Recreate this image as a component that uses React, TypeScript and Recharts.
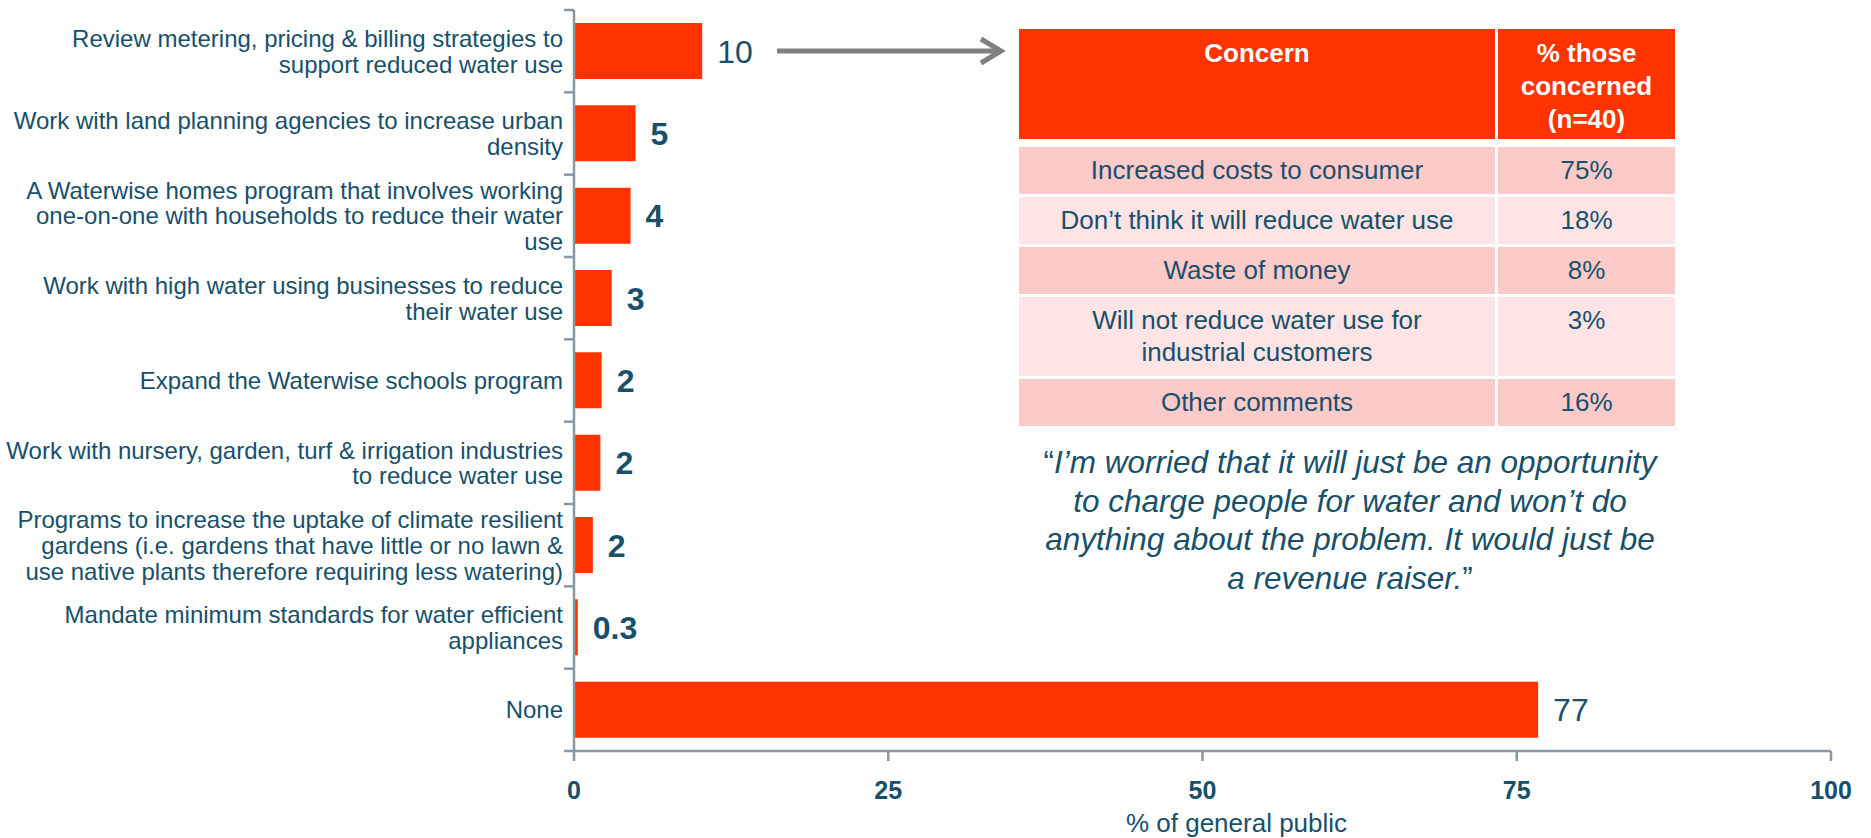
import React from "react";
import { BarChart, Bar, XAxis, YAxis, LabelList } from "recharts";

// ── data ─────────────────────────────────────────────────────────────────────

const categories = [
  "Review metering, pricing & billing strategies to\nsupport reduced water use",
  "Work with land planning agencies to increase urban\ndensity",
  "A Waterwise homes program that involves working\none-on-one with households to reduce their water\nuse",
  "Work with high water using businesses to reduce\ntheir water use",
  "Expand the Waterwise schools program",
  "Work with nursery, garden, turf & irrigation industries\nto reduce water use",
  "Programs to increase the uptake of climate resilient\ngardens (i.e. gardens that have little or no lawn &\nuse native plants therefore requiring less watering)",
  "Mandate minimum standards for water efficient\nappliances",
  "None",
];
const values = [10.2, 4.9, 4.5, 3.0, 2.2, 2.1, 1.5, 0.3, 76.7];
const valueLabels = ["10", "5", "4", "3", "2", "2", "2", "0.3", "77"];
const xTicks = [0, 25, 50, 75, 100];
const axisTitle = "% of general public";

const concernHeader = ["Concern", "% those\nconcerned\n(n=40)"];
const concerns = [
  "Increased costs to consumer",
  "Don\u2019t think it will reduce water use",
  "Waste of money",
  "Will not reduce water use for\nindustrial customers",
  "Other comments",
];
const concernShares = ["75%", "18%", "8%", "3%", "16%"];

const quoteLines = [
  "I\u2019m worried that it will just be an opportunity",
  "to charge people for water and won\u2019t do",
  "anything about the problem. It would just be",
  "a revenue raiser.",
];

// ── style ────────────────────────────────────────────────────────────────────

const FONT = "'Liberation Sans', Arial, Helvetica, sans-serif";
const RED = "#ff3300";
const TEXT = "#17506a";
const AXIS = "#8a96a0";
const ROW_A = "#fdcaca";
const ROW_B = "#fee4e4";

const W = 1871;
const H = 838;
const MARGIN = { top: 10, right: 40, bottom: 7, left: 0 };
const X_AXIS_H = 80;
const PLOT_H = H - MARGIN.top - MARGIN.bottom - X_AXIS_H;
const BAND = PLOT_H / categories.length;
const LINE_H = 25.7;

const data = categories.map((name, i) => ({ name, value: values[i], label: valueLabels[i] }));

// ── axis ticks / labels ──────────────────────────────────────────────────────

function CategoryTick(props: any) {
  const { x, y, payload, index } = props;
  const lines = String(payload.value).split("\n");
  const first = y - ((lines.length - 1) * LINE_H) / 2;
  const half = BAND / 2;
  return (
    <g>
      <line x1={x - 10} x2={x} y1={y - half} y2={y - half} stroke={AXIS} strokeWidth={2.5} />
      {index === categories.length - 1 && (
        <line x1={x - 10} x2={x} y1={y + half} y2={y + half} stroke={AXIS} strokeWidth={2.5} />
      )}
      <text x={x - 11} y={first} textAnchor="end" fontSize={24} fill={TEXT} fontFamily={FONT}>
        {lines.map((l, i) => (
          <tspan key={i} x={x - 11} y={first + i * LINE_H} dy="0.36em">
            {l}
          </tspan>
        ))}
      </text>
    </g>
  );
}

function ValueLabel(props: any) {
  const { x, y, width, height, value } = props;
  const small = Number(value) < 10 || String(value).includes(".");
  return (
    <text
      x={Number(x) + Number(width) + 15}
      y={Number(y) + Number(height) / 2}
      dy="0.36em"
      fontSize={32}
      fontWeight={small ? 700 : 400}
      fill={TEXT}
      fontFamily={FONT}
    >
      {value}
    </text>
  );
}

function AxisTitle(props: any) {
  const vb = props.viewBox || {};
  return (
    <text
      x={vb.x + vb.width / 2 + 34}
      y={vb.y + 81}
      textAnchor="middle"
      fontSize={26}
      fill={TEXT}
      fontFamily={FONT}
    >
      {axisTitle}
    </text>
  );
}

// ── table + quote overlay ────────────────────────────────────────────────────

function ConcernTable() {
  const cell = (bg: string, text: string, opts: any = {}) => (
    <div
      style={{
        background: bg,
        color: opts.color || TEXT,
        fontWeight: opts.bold ? 700 : 400,
        textAlign: "center",
        whiteSpace: "pre-line",
        lineHeight: opts.lh || "32px",
        padding: opts.pad || "7px 4px 8px",
        boxSizing: "border-box",
      }}
    >
      {text}
    </div>
  );
  return (
    <div
      style={{
        position: "absolute",
        left: 1019,
        top: 29,
        width: 656,
        fontFamily: FONT,
        fontSize: 26,
        display: "grid",
        gridTemplateColumns: "476px 177px",
        columnGap: 3,
        rowGap: 3,
      }}
    >
      {cell(RED, concernHeader[0], { color: "#fff", bold: true, lh: "33px", pad: "8px 4px 3px" })}
      {cell(RED, concernHeader[1], { color: "#fff", bold: true, lh: "33px", pad: "8px 4px 3px" })}
      <div style={{ gridColumn: "1 / span 2", height: 2 }} />
      {concerns.map((c, i) => (
        <React.Fragment key={c}>
          {cell(i % 2 === 0 ? ROW_A : ROW_B, c)}
          {cell(i % 2 === 0 ? ROW_A : ROW_B, concernShares[i])}
        </React.Fragment>
      ))}
    </div>
  );
}

function Quote() {
  return (
    <div
      style={{
        position: "absolute",
        left: 1000,
        top: 443,
        width: 700,
        textAlign: "center",
        fontFamily: FONT,
        fontSize: 31.5,
        lineHeight: "38.5px",
        color: TEXT,
        fontStyle: "italic",
      }}
    >
      {quoteLines.map((l, i) => (
        <div key={i}>
          {i === 0 && <span style={{ fontStyle: "normal" }}>{"\u201C"}</span>}
          {l}
          {i === quoteLines.length - 1 && <span style={{ fontStyle: "normal" }}>{"\u201D"}</span>}
        </div>
      ))}
    </div>
  );
}

function Arrow() {
  return (
    <svg style={{ position: "absolute", left: 0, top: 0 }} width={W} height={H} pointerEvents="none">
      <line x1={777} y1={51} x2={999} y2={51} stroke="#808080" strokeWidth={5} />
      <polyline points="981,39 1001,51 981,63" fill="none" stroke="#808080" strokeWidth={5} />
    </svg>
  );
}

// ── app ──────────────────────────────────────────────────────────────────────

export default function App() {
  return (
    <div style={{ position: "absolute", left: 0, top: 0, width: W, height: H, background: "#fff" }}>
      <BarChart width={W} height={H} data={data} layout="vertical" margin={MARGIN}>
        <XAxis
          type="number"
          domain={[0, 100]}
          ticks={xTicks}
          interval={0}
          height={X_AXIS_H}
          tickSize={10}
          tickMargin={20}
          axisLine={{ stroke: AXIS, strokeWidth: 2.5 }}
          tickLine={{ stroke: AXIS, strokeWidth: 2.5 }}
          tick={{ fill: TEXT, fontSize: 25, fontWeight: 700, fontFamily: FONT }}
          label={{ content: AxisTitle }}
        />
        <YAxis
          type="category"
          dataKey="name"
          width={574}
          tickSize={0}
          tickMargin={0}
          interval={0}
          axisLine={{ stroke: AXIS, strokeWidth: 2.5 }}
          tickLine={false}
          tick={CategoryTick}
        />
        <Bar dataKey="value" fill={RED} barSize={56} isAnimationActive={false}>
          <LabelList dataKey="label" content={ValueLabel} />
        </Bar>
      </BarChart>
      <Arrow />
      <ConcernTable />
      <Quote />
    </div>
  );
}
